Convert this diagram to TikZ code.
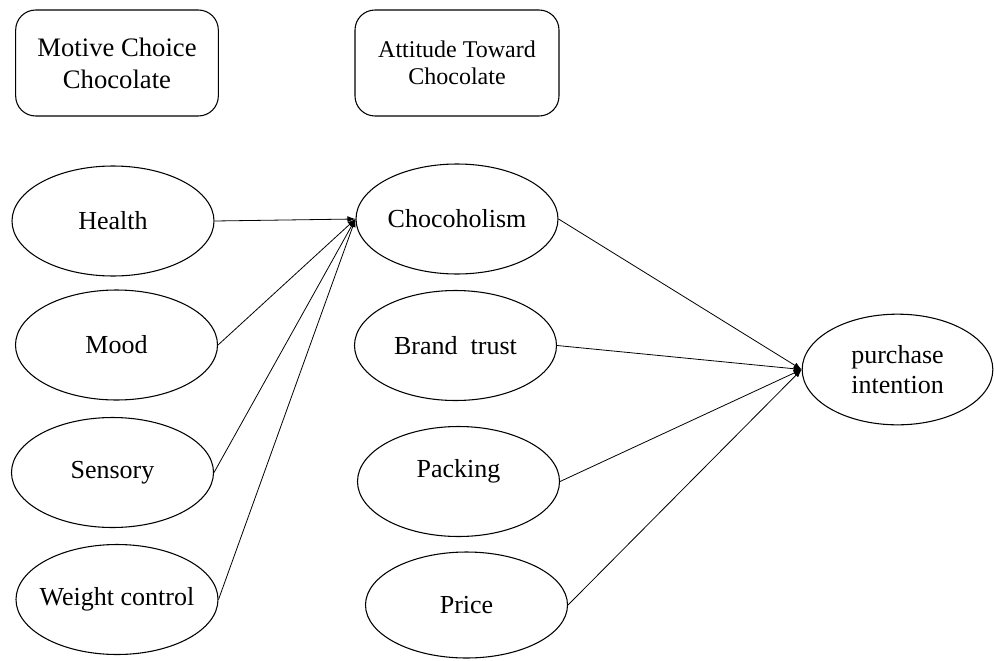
\documentclass[tikz,border=0pt]{standalone}
\usepackage{fontspec}
\setmainfont{Liberation Serif}
\usetikzlibrary{shapes.geometric,arrows.meta}
\tikzset{
  oval/.style={draw, ellipse, line width=0.8pt, inner sep=0pt,
    minimum width=151.5pt, minimum height=82.5pt,
    font=\fontsize{19.5}{23}\selectfont, align=center},
  groupbox/.style={draw, rounded corners=15pt, line width=0.8pt,
    minimum width=152pt, minimum height=79.5pt, align=center},
  link/.style={-{Latex[length=6pt,width=4.5pt]}, line width=0.6pt}
}
\begin{document}
\begin{tikzpicture}[x=0.75pt,y=0.75pt,yscale=-1,xscale=1]
    \path[use as bounding box] (0,0) rectangle (994,660);
    % Group boxes
    \node[groupbox, font=\fontsize{20}{24}\selectfont] (motive) at (117,63) {Motive Choice\\Chocolate};
    \node[groupbox, minimum width=153pt, font=\fontsize{18}{20.5}\selectfont] (attitude) at (457,63) {Attitude Toward\\Chocolate};
    % Motives
    \node[oval] (health) at (113,221) {Health};
    \node[oval] (mood) at (116.5,345) {Mood};
    \node[oval] (sensory) at (112.5,472.5) {Sensory};
    \node[oval] (weight) at (117,599.5) {\makebox[0pt][c]{Weight control}};
    % Attitudes
    \node[oval] (choco) at (457,219) {Chocoholism};
    \node[oval] (brand) at (455.5,345.5) {Brand~ trust};
    \node[oval, label={[font=\fontsize{19.5}{23}\selectfont, yshift=7.5pt]center:Packing}] (packing) at (458.5,481.5) {};
    \node[oval, minimum height=79.5pt] (price) at (466.5,605) {Price};
    % Outcome
    \node[oval, minimum width=143pt, minimum height=83pt] (purchase) at (897.5,369.5) {purchase\\intention};
    % Arrows into Chocoholism
    \draw[link] (health.east) -- (choco.west);
    \draw[link] (mood.east) -- (choco.west);
    \draw[link] (sensory.east) -- (choco.west);
    \draw[link] (weight.east) -- (choco.west);
    % Arrows into purchase intention
    \draw[link] (choco.east) -- (purchase.west);
    \draw[link] (brand.east) -- (purchase.west);
    \draw[link] (packing.east) -- (purchase.west);
    \draw[link] (price.east) -- (purchase.west);
\end{tikzpicture}
\end{document}
